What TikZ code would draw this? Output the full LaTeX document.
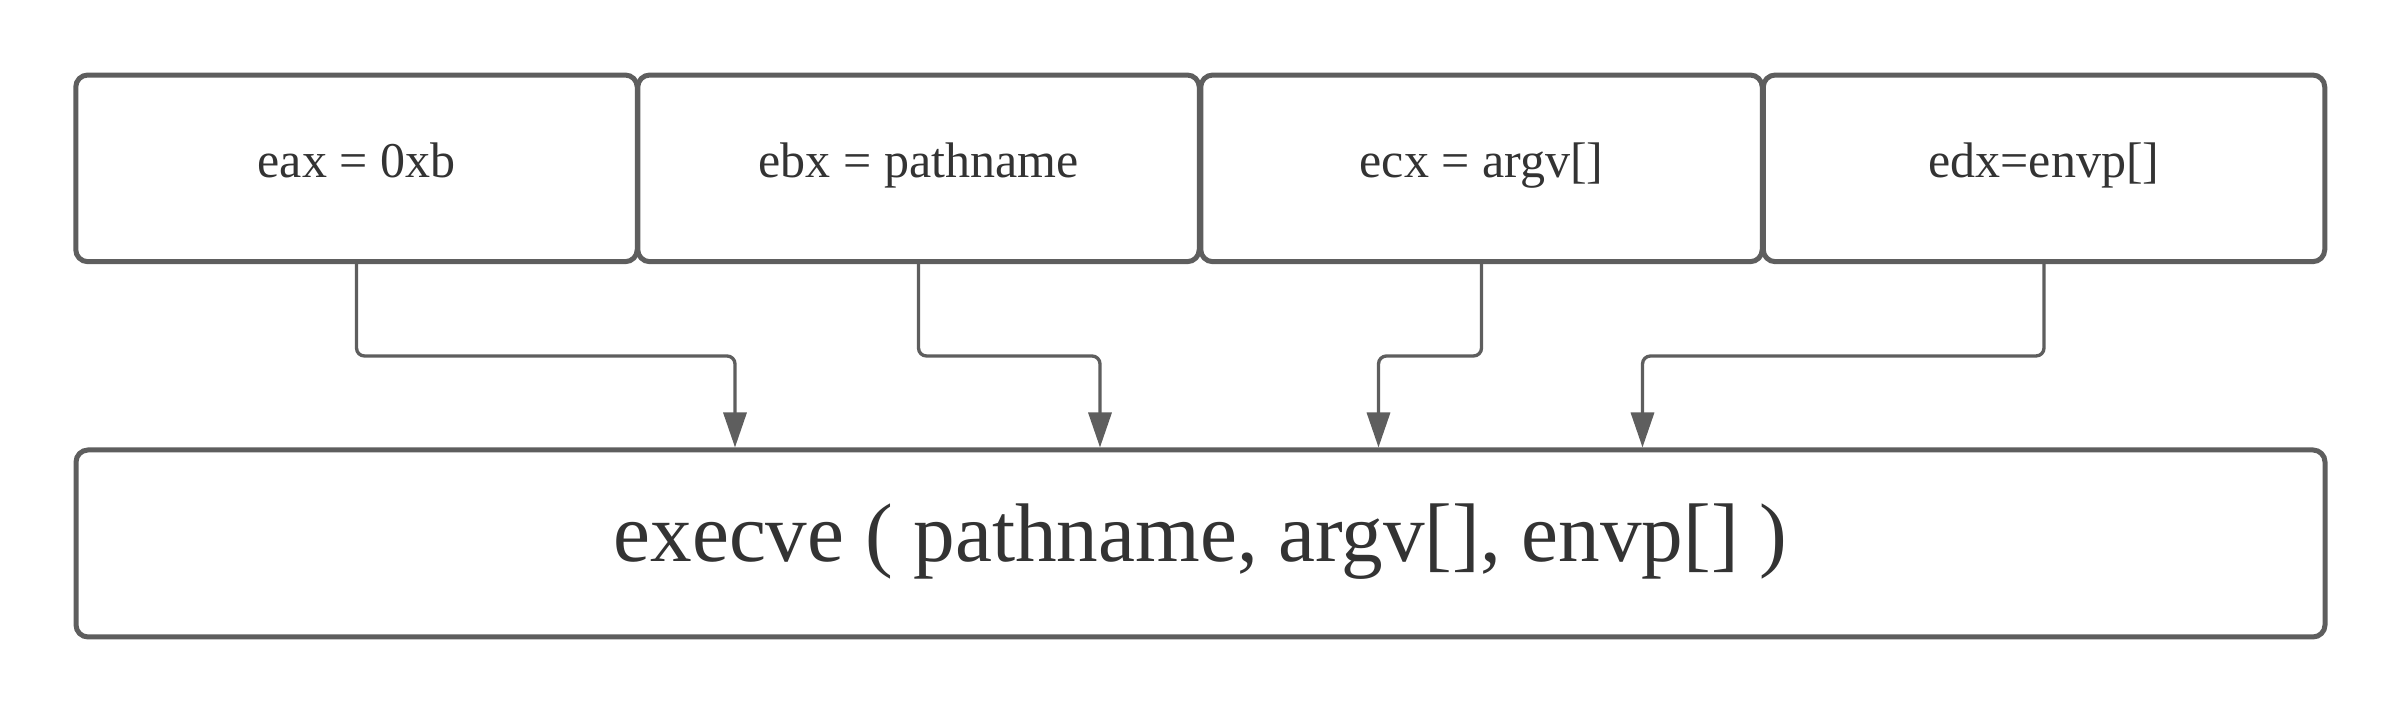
\documentclass[tikz,border=0pt]{standalone}
\usepackage{fontspec}
\setmainfont{Liberation Serif}
\usetikzlibrary{arrows.meta}
\definecolor{linegray}{HTML}{5E5E5E}
\definecolor{textgray}{HTML}{333333}
\begin{document}
\begin{tikzpicture}[x=0.3pt,y=-0.3pt,
  box/.style={draw=linegray, line width=1.5pt, rounded corners=3.6pt, fill=white, text=textgray, inner sep=0pt},
  regbox/.style={box, minimum width=168.45pt, minimum height=56pt, font=\fontsize{15}{18}\selectfont, text height=10pt, text depth=4.4pt},
  callbox/.style={box, minimum width=674.7pt, minimum height=56.1pt, font=\fontsize{24.95}{29}\selectfont, text height=16pt, text depth=5.08pt},
  conn/.style={draw=linegray, line width=1pt, rounded corners=2.4pt, -{Triangle[length=10.5pt,width=6.9pt]}}]
\useasboundingbox (0,0) rectangle (2400,713);
\node[regbox] (a) at (356.5,168.35) {eax = 0xb};
\node[regbox] (b) at (918.5,168.35) {ebx = pathname};
\node[regbox] (c) at (1481.5,168.35) {ecx = argv[]};
\node[regbox] (d) at (2044,168.35) {edx=envp[]};
\node[callbox] (e) at (1200.5,543.5) {execve ( pathname, argv[], envp[] )};
\coordinate (t1) at (735,356);
\coordinate (t2) at (1100,356);
\coordinate (t3) at (1378.5,356);
\coordinate (t4) at (1642.5,356);
\draw[conn] (a.south) |- (t1) -- (t1 |- e.north);
\draw[conn] (b.south) |- (t2) -- (t2 |- e.north);
\draw[conn] (c.south) |- (t3) -- (t3 |- e.north);
\draw[conn] (d.south) |- (t4) -- (t4 |- e.north);
\end{tikzpicture}
\end{document}
